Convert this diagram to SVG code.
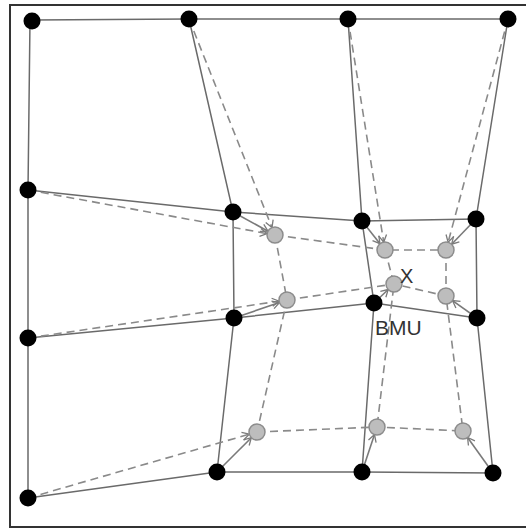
<svg xmlns="http://www.w3.org/2000/svg" width="526" height="529" viewBox="0 0 526 529">
<style>
.frame{fill:#fff;stroke:#333;stroke-width:2}
.solid{fill:none;stroke:#6a6a6a;stroke-width:1.5}
.dash{fill:none;stroke:#8a8a8a;stroke-width:1.6;stroke-dasharray:8 5}
.arr{fill:none;stroke:#7a7a7a;stroke-width:1.6}
.bn{fill:#000}
.gn{fill:#bdbdbd;stroke:#8c8c8c;stroke-width:1.5}
.lbl{font-family:"Liberation Sans",Arial,sans-serif;fill:#333}
</style>
<defs>
<marker id="ah" markerWidth="10" markerHeight="10" refX="8" refY="5" orient="auto" markerUnits="userSpaceOnUse">
<path d="M1,1 L8,5 L1,9" fill="none" stroke="#7a7a7a" stroke-width="1.3"/>
</marker>
</defs>
<rect class="frame" x="10" y="5" width="530" height="522"/>
<g id="connectors">
<g id="solid-grid">
<polyline class="solid" points="32,20 189,19 348,19 508,19"/>
<polyline class="solid" points="30,20 28,190 28,338 28,498"/>
<polyline class="solid" points="28,190 233,212 362,221 476,219"/>
<polyline class="solid" points="28,338 234,318 374,303 477,318"/>
<polyline class="solid" points="28,498 217,472 362,472 493,473"/>
<polyline class="solid" points="189,19 233,212 234,318 217,472"/>
<polyline class="solid" points="348,19 362,221 374,303 362,472"/>
<polyline class="solid" points="508,19 476,219 477,318 493,473"/>
</g>
<g id="dashed-grid">
<line class="dash" x1="189" y1="19" x2="272" y2="227.6" marker-end="url(#ah)"/>
<line class="dash" x1="348" y1="19" x2="383.7" y2="242.1" marker-end="url(#ah)"/>
<line class="dash" x1="508" y1="19" x2="448.1" y2="242.3" marker-end="url(#ah)"/>
<line class="dash" x1="28" y1="190" x2="267.1" y2="233.6" marker-end="url(#ah)"/>
<line class="dash" x1="28" y1="338" x2="279.1" y2="301.2" marker-end="url(#ah)"/>
<line class="dash" x1="28" y1="498" x2="249.3" y2="434.2" marker-end="url(#ah)"/>
<polyline class="dash" points="275,235 385,250 446,250"/>
<polyline class="dash" points="287,300 394,284 446,296"/>
<polyline class="dash" points="257,432 377,427 463,431"/>
<polyline class="dash" points="275,235 287,300 257,432"/>
<polyline class="dash" points="385,250 394,284 377,427"/>
<polyline class="dash" points="446,250 446,296 463,431"/>
</g>
<g id="update-arrows">
<line class="arr" x1="233" y1="212" x2="268" y2="231.2" marker-end="url(#ah)"/>
<line class="arr" x1="362" y1="221" x2="380" y2="243.7" marker-end="url(#ah)"/>
<line class="arr" x1="476" y1="219" x2="451.6" y2="244.2" marker-end="url(#ah)"/>
<line class="arr" x1="234" y1="318" x2="279.4" y2="302.6" marker-end="url(#ah)"/>
<line class="arr" x1="374" y1="303" x2="388.2" y2="289.5" marker-end="url(#ah)"/>
<line class="arr" x1="477" y1="318" x2="452.5" y2="300.6" marker-end="url(#ah)"/>
<line class="arr" x1="217" y1="472" x2="251.3" y2="437.7" marker-end="url(#ah)"/>
<line class="arr" x1="362" y1="472" x2="374.5" y2="434.6" marker-end="url(#ah)"/>
<line class="arr" x1="493" y1="473" x2="467.6" y2="437.5" marker-end="url(#ah)"/>
</g>
</g>
<g id="gray-nodes">
<g id="g11"><circle class="gn" cx="275" cy="235" r="8"/></g>
<g id="g12"><circle class="gn" cx="385" cy="250" r="8"/></g>
<g id="g13"><circle class="gn" cx="446" cy="250" r="8"/></g>
<g id="g21"><circle class="gn" cx="287" cy="300" r="8"/></g>
<g id="g22"><circle class="gn" cx="394" cy="284" r="8"/></g>
<g id="g23"><circle class="gn" cx="446" cy="296" r="8"/></g>
<g id="g31"><circle class="gn" cx="257" cy="432" r="8"/></g>
<g id="g32"><circle class="gn" cx="377" cy="427" r="8"/></g>
<g id="g33"><circle class="gn" cx="463" cy="431" r="8"/></g>
</g>
<g id="black-nodes">
<g id="n00"><circle class="bn" cx="32" cy="21" r="8.5"/></g>
<g id="n01"><circle class="bn" cx="189" cy="19" r="8.5"/></g>
<g id="n02"><circle class="bn" cx="348" cy="19" r="8.5"/></g>
<g id="n03"><circle class="bn" cx="508" cy="19" r="8.5"/></g>
<g id="n10"><circle class="bn" cx="28" cy="190" r="8.5"/></g>
<g id="n11"><circle class="bn" cx="233" cy="212" r="8.5"/></g>
<g id="n12"><circle class="bn" cx="362" cy="221" r="8.5"/></g>
<g id="n13"><circle class="bn" cx="476" cy="219" r="8.5"/></g>
<g id="n20"><circle class="bn" cx="28" cy="338" r="8.5"/></g>
<g id="n21"><circle class="bn" cx="234" cy="318" r="8.5"/></g>
<g id="bmu"><circle class="bn" cx="374" cy="303" r="8.5"/><text class="lbl" x="375" y="335" font-size="21">BMU</text></g>
<g id="n23"><circle class="bn" cx="477" cy="318" r="8.5"/></g>
<g id="n30"><circle class="bn" cx="28" cy="498" r="8.5"/></g>
<g id="n31"><circle class="bn" cx="217" cy="472" r="8.5"/></g>
<g id="n32"><circle class="bn" cx="362" cy="472" r="8.5"/></g>
<g id="n33"><circle class="bn" cx="493" cy="473" r="8.5"/></g>
</g>
<g id="input-x"><text class="lbl" x="400" y="283" font-size="20">X</text></g>
</svg>
